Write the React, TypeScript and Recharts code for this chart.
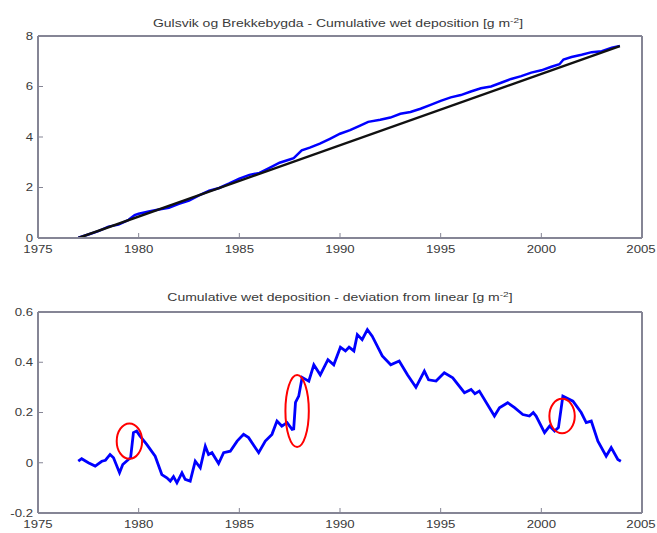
import { LineChart, Line, XAxis, YAxis, ReferenceDot } from "recharts";

// tick labels
const yearTicks = [1975, 1980, 1985, 1990, 1995, 2000, 2005];
const cumTicks = [0, 2, 4, 6, 8];
const devTicks = [-0.2, 0, 0.2, 0.4, 0.6];

// top panel: measured cumulative deposition (blue)
const cumYears = [
  1977.0, 1977.5, 1978.0, 1978.5, 1979.0, 1979.5, 1979.8, 1980.0, 1980.5, 1981.0,
  1981.5, 1982.0, 1982.5, 1983.0, 1983.5, 1984.0, 1984.5, 1985.0, 1985.5, 1986.0,
  1986.5, 1987.0, 1987.5, 1987.7, 1988.1, 1988.5, 1989.0, 1989.5, 1990.0, 1990.5,
  1991.0, 1991.4, 1992.0, 1992.5, 1993.0, 1993.5, 1994.0, 1994.5, 1995.0, 1995.5,
  1996.0, 1996.5, 1997.0, 1997.5, 1998.0, 1998.5, 1999.0, 1999.5, 2000.0, 2000.5,
  2000.9, 2001.1, 2001.5, 2002.0, 2002.5, 2003.0, 2003.5, 2003.9,
];
const cumValues = [
  0.01, 0.14, 0.27, 0.45, 0.53, 0.72, 0.91, 0.96, 1.05, 1.13,
  1.2, 1.35, 1.48, 1.69, 1.87, 1.98, 2.16, 2.355, 2.5, 2.58,
  2.78, 2.98, 3.11, 3.16, 3.47, 3.58, 3.74, 3.93, 4.13, 4.27,
  4.455, 4.6, 4.68, 4.77, 4.92, 4.99, 5.12, 5.27, 5.43, 5.57,
  5.66, 5.8, 5.93, 6.0, 6.15, 6.3, 6.41, 6.55, 6.64, 6.78,
  6.88, 7.07, 7.17, 7.26, 7.36, 7.4, 7.54, 7.61,
];

// top panel: linear trend (black)
const trendYears = [1977.0, 2003.9];
const trendValues = [0, 7.6];

// bottom panel: deviation from linear
const devYears = [
  1977.0, 1977.17, 1977.5, 1977.84, 1978.17, 1978.35, 1978.58, 1978.75, 1979.05, 1979.21,
  1979.49, 1979.6, 1979.74, 1979.9, 1980.07, 1980.4, 1980.82, 1981.15, 1981.4, 1981.57,
  1981.73, 1981.9, 1982.15, 1982.31, 1982.56, 1982.81, 1983.06, 1983.31, 1983.47, 1983.64,
  1983.97, 1984.22, 1984.55, 1984.89, 1985.21, 1985.46, 1985.96, 1986.29, 1986.62, 1986.87,
  1987.11, 1987.37, 1987.62, 1987.7, 1987.79, 1987.95, 1988.12, 1988.45, 1988.7, 1989.02,
  1989.4, 1989.69, 1990.02, 1990.27, 1990.45, 1990.69, 1990.86, 1991.1, 1991.36, 1991.6,
  1992.1, 1992.52, 1992.94, 1993.35, 1993.77, 1994.19, 1994.4, 1994.77, 1995.18, 1995.6,
  1996.18, 1996.51, 1996.7, 1996.92, 1997.67, 1997.92, 1998.33, 1998.67, 1999.08, 1999.41,
  1999.6, 1999.74, 2000.16, 2000.41, 2000.66, 2000.85, 2001.07, 2001.57, 2001.98, 2002.23,
  2002.48, 2002.81, 2003.22, 2003.47, 2003.8, 2003.95,
];
const devValues = [
  0.006, 0.016, 0.0, -0.013, 0.006, 0.01, 0.033, 0.02, -0.04, -0.007,
  0.013, 0.02, 0.12, 0.126, 0.106, 0.073, 0.026, -0.047, -0.06, -0.073,
  -0.055, -0.08, -0.04, -0.066, -0.073, 0.006, -0.02, 0.066, 0.033, 0.04,
  -0.003, 0.04, 0.046, 0.086, 0.113, 0.1, 0.04, 0.086, 0.113, 0.166,
  0.146, 0.16, 0.133, 0.135, 0.24, 0.265, 0.34, 0.325, 0.39, 0.35,
  0.41, 0.39, 0.46, 0.445, 0.46, 0.445, 0.51, 0.49, 0.53, 0.504,
  0.425, 0.39, 0.405, 0.35, 0.3, 0.365, 0.33, 0.325, 0.358, 0.338,
  0.279, 0.292, 0.275, 0.285, 0.186, 0.219, 0.239, 0.219, 0.192, 0.186,
  0.2, 0.186, 0.12, 0.146, 0.126, 0.14, 0.265, 0.245, 0.2, 0.16,
  0.166, 0.086, 0.026, 0.06, 0.013, 0.006,
];

// marked jumps (red ellipses)
const markYears = [1979.54, 1987.87, 2001.03];
const markValues = [0.086, 0.206, 0.186];

// ellipse radii in px (style only)
const markRadii = [
  [12.7, 17.7],
  [11.7, 36],
  [12.7, 17.3],
];

const cumData = cumYears.map((year, i) => ({ year, value: cumValues[i] }));
const trendData = trendYears.map((year, i) => ({ year, value: trendValues[i] }));
const devData = devYears.map((year, i) => ({ year, value: devValues[i] }));

const FONT = "'Liberation Sans', Arial, Helvetica, sans-serif";
const TEXT = "#3a3a3a";
const BOX = "#858595";
const STRETCH = 1.2;

function XTick({ x, y, payload }: any) {
  return (
    <g transform={`translate(${x},${y}) scale(${STRETCH},1)`}>
      <text textAnchor="middle" dy="0.72em" fontSize={11} fill={TEXT} fontFamily={FONT}>
        {payload.value}
      </text>
    </g>
  );
}

function YTick({ x, y, payload }: any) {
  return (
    <g transform={`translate(${x},${y}) scale(${STRETCH},1)`}>
      <text textAnchor="end" dy="0.36em" fontSize={11} fill={TEXT} fontFamily={FONT}>
        {payload.value}
      </text>
    </g>
  );
}

function Title({ x, y, text }: { x: number; y: number; text: string }) {
  return (
    <div
      style={{
        position: "absolute",
        left: x,
        top: y - 6,
        transform: "translateX(-50%) scaleX(1.27)",
        whiteSpace: "nowrap",
        fontFamily: FONT,
        fontSize: 11,
        lineHeight: "12px",
        color: TEXT,
      }}
    >
      {text} [g m<span style={{ fontSize: 8, position: "relative", top: -4 }}>-2</span>]
    </div>
  );
}

export default function App() {
  return (
    <div style={{ position: "absolute", left: 0, top: 0, width: 657, height: 533, background: "#fff" }}>
      <LineChart width={657} height={260} margin={{ top: 35, right: 0, bottom: 0, left: 0 }}>
        <XAxis dataKey="year" type="number" domain={[1975, 2005]} ticks={yearTicks} allowDataOverflow
          height={22} tickSize={-5} tickMargin={12}
          axisLine={{ stroke: BOX, strokeWidth: 2 }} tickLine={{ stroke: BOX }} tick={<XTick />} />
        <XAxis xAxisId="top" dataKey="year" orientation="top" type="number" domain={[1975, 2005]}
          ticks={yearTicks} allowDataOverflow height={1} tickSize={-5}
          axisLine={{ stroke: BOX, strokeWidth: 2 }} tickLine={{ stroke: BOX }} tick={false} />
        <YAxis type="number" domain={[0, 8]} ticks={cumTicks} allowDataOverflow
          width={38} tickSize={-5} tickMargin={10}
          axisLine={{ stroke: BOX, strokeWidth: 2 }} tickLine={{ stroke: BOX }} tick={<YTick />} />
        <YAxis yAxisId="right" orientation="right" type="number" domain={[0, 8]} ticks={cumTicks}
          allowDataOverflow width={15} tickSize={-5}
          axisLine={{ stroke: BOX, strokeWidth: 2 }} tickLine={{ stroke: BOX }} tick={false} />
        <Line data={cumData} dataKey="value" stroke="#0000ff" strokeWidth={2.5} dot={false}
          type="linear" isAnimationActive={false} />
        {/* same scale as the left/bottom axes; bound to top/right so the box axes get drawn */}
        <Line data={trendData} xAxisId="top" yAxisId="right" dataKey="value" stroke="#111"
          strokeWidth={2.5} dot={false} type="linear" isAnimationActive={false} />
      </LineChart>
      <LineChart width={657} height={273} margin={{ top: 51, right: 0, bottom: 0, left: 0 }}>
        <XAxis dataKey="year" type="number" domain={[1975, 2005]} ticks={yearTicks} allowDataOverflow
          height={20} tickSize={-5} tickMargin={12}
          axisLine={{ stroke: BOX, strokeWidth: 2 }} tickLine={{ stroke: BOX }} tick={<XTick />} />
        <XAxis xAxisId="top" dataKey="year" orientation="top" type="number" domain={[1975, 2005]}
          ticks={yearTicks} allowDataOverflow height={1} tickSize={-5}
          axisLine={{ stroke: BOX, strokeWidth: 2 }} tickLine={{ stroke: BOX }} tick={false} />
        <YAxis type="number" domain={[-0.2, 0.6]} ticks={devTicks} allowDataOverflow
          width={38} tickSize={-5} tickMargin={10}
          axisLine={{ stroke: BOX, strokeWidth: 2 }} tickLine={{ stroke: BOX }} tick={<YTick />} />
        <YAxis yAxisId="right" orientation="right" type="number" domain={[-0.2, 0.6]} ticks={devTicks}
          allowDataOverflow width={15} tickSize={-5}
          axisLine={{ stroke: BOX, strokeWidth: 2 }} tickLine={{ stroke: BOX }} tick={false} />
        <Line data={devData} xAxisId="top" yAxisId="right" dataKey="value" stroke="none"
          dot={false} activeDot={false} type="linear" isAnimationActive={false} />
        <Line data={devData} dataKey="value" stroke="#0000ff" strokeWidth={2.8} dot={false}
          type="linear" isAnimationActive={false} />
        {markYears.map((yr, i) => (
          <ReferenceDot
            key={yr}
            x={yr}
            y={markValues[i]}
            r={4}
            ifOverflow="visible"
            shape={(p: any) => (
              <ellipse cx={p.cx} cy={p.cy} rx={markRadii[i][0]} ry={markRadii[i][1]}
                fill="none" stroke="#ff0000" strokeWidth={2} />
            )}
          />
        ))}
      </LineChart>
      <Title x={338} y={22.5} text="Gulsvik og Brekkebygda - Cumulative wet deposition" />
      <Title x={340} y={297} text="Cumulative wet deposition - deviation from linear" />
    </div>
  );
}
